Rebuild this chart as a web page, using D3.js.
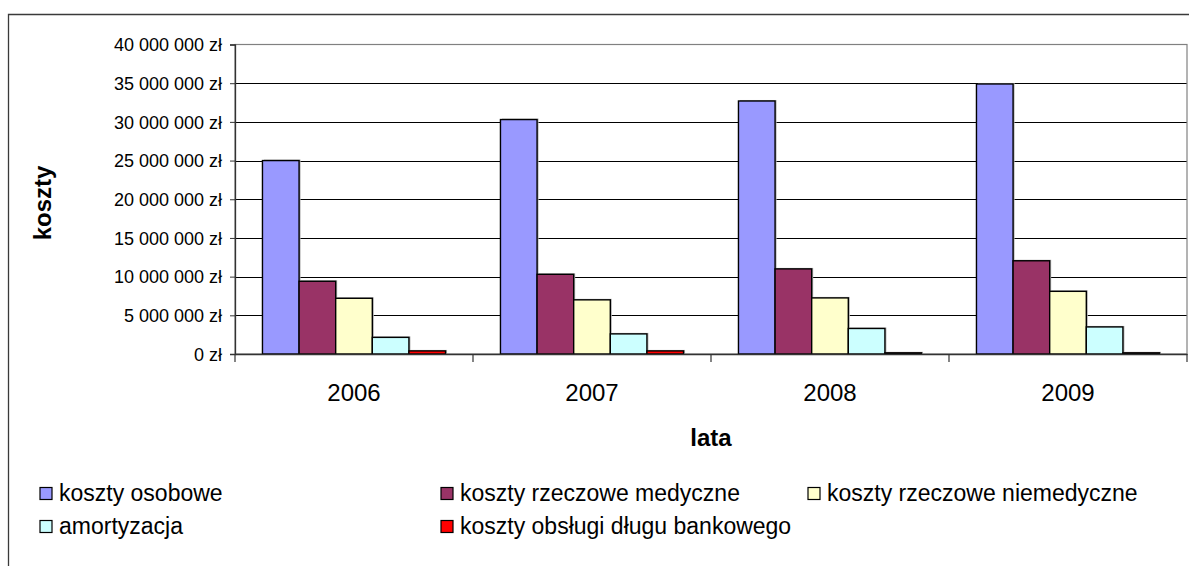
<!DOCTYPE html>
<html>
  <head>
    <meta charset="utf-8">
    <title>Koszty 2006-2009</title>
    <script src="https://d3js.org/d3.v7.min.js"></script>
    <style>
      body { margin: 0; background: #fff; }
      svg text { font-family: "Liberation Sans", Arial, sans-serif; fill: #000; }
    </style>
  </head>
  <body>
<script>
// data
var years = ["2006", "2007", "2008", "2009"];
var seriesNames = [
  "koszty osobowe",
  "koszty rzeczowe medyczne",
  "koszty rzeczowe niemedyczne",
  "amortyzacja",
  "koszty obsługi długu bankowego"
];
var seriesColors = ["#9999FF", "#993366", "#FFFFCC", "#CCFFFF", "#FF0000"];
var kosztyOsobowe      = [25000000, 30300000, 32700000, 34900000];
var rzeczoweMedyczne   = [9400000, 10300000, 11000000, 12050000];
var rzeczoweNiemed     = [7200000, 7000000, 7250000, 8100000];
var amortyzacja        = [2150000, 2600000, 3300000, 3500000];
var obslugaDlugu       = [400000, 400000, 150000, 150000];
var yTicks = [0, 5000000, 10000000, 15000000, 20000000, 25000000, 30000000, 35000000, 40000000];

var seriesValues = [kosztyOsobowe, rzeczoweMedyczne, rzeczoweNiemed, amortyzacja, obslugaDlugu];

var width = 1189,
    height = 566,
    plot = { left: 235, right: 1187, top: 44.5, bottom: 354 };

var svg = d3.select("body").append("svg")
  .attr("width", width)
  .attr("height", height);

// outer chart frame (only top and left visible)
svg.append("path")
  .attr("d", "M8.5," + height + "V14.5H" + width)
  .attr("fill", "none")
  .attr("stroke", "#3a3a3a")
  .attr("stroke-width", 1.3);

var y = d3.scaleLinear().domain([0, 40000000]).range([plot.bottom, plot.top]);
var x0 = d3.scaleBand().domain(years).range([plot.left, plot.right]);
var x1 = d3.scaleBand().domain(seriesNames).range([0, x0.bandwidth()]).paddingOuter(0.75);

// gridlines
svg.append("g")
  .selectAll("line")
  .data(yTicks.filter(function (d) { return d > 0 && d < 40000000; }))
  .enter().append("line")
  .attr("x1", plot.left).attr("x2", plot.right)
  .attr("y1", function (d) { return Math.round(y(d)) + 0.5; })
  .attr("y2", function (d) { return Math.round(y(d)) + 0.5; })
  .attr("stroke", "#000")
  .attr("stroke-width", 1);

// plot area border
svg.append("rect")
  .attr("x", plot.left).attr("y", plot.top)
  .attr("width", plot.right - plot.left)
  .attr("height", plot.bottom - plot.top)
  .attr("fill", "none")
  .attr("stroke", "#808080")
  .attr("stroke-width", 1.2);

// bars
var rows = years.map(function (yr, i) {
  return { year: yr, vals: seriesNames.map(function (s, j) { return { key: s, value: seriesValues[j][i], color: seriesColors[j] }; }) };
});

var groups = svg.append("g").selectAll("g")
  .data(rows)
  .enter().append("g")
  .attr("transform", function (d) { return "translate(" + x0(d.year) + ",0)"; });

// faint shadow behind each bar
groups.selectAll("rect.shadow")
  .data(function (d) { return d.vals; })
  .enter().append("rect")
  .attr("class", "shadow")
  .attr("x", function (d) { return x1(d.key) + 1.5; })
  .attr("y", function (d) { return y(d.value) - 1; })
  .attr("width", x1.bandwidth())
  .attr("height", function (d) { return plot.bottom - y(d.value) + 1; })
  .attr("fill", "#b0b0b0");

groups.selectAll("rect.bar")
  .data(function (d) { return d.vals; })
  .enter().append("rect")
  .attr("class", "bar")
  .attr("x", function (d) { return x1(d.key); })
  .attr("y", function (d) { return y(d.value); })
  .attr("width", x1.bandwidth())
  .attr("height", function (d) { return plot.bottom - y(d.value); })
  .attr("fill", function (d) { return d.color; })
  .attr("stroke", "#000")
  .attr("stroke-width", 1.4);

// y axis
var fmt = d3.format(",");
var yAxis = svg.append("g")
  .attr("transform", "translate(" + plot.left + ",0)")
  .call(d3.axisLeft(y)
    .tickValues(yTicks)
    .tickSize(5)
    .tickPadding(8)
    .tickFormat(function (d) { return fmt(d).replace(/,/g, " ") + " zł"; }));
yAxis.select(".domain").attr("stroke", "#333").attr("stroke-width", 1.3);
yAxis.selectAll(".tick line").attr("stroke", "#333");
yAxis.selectAll("text")
  .style("font-size", "18px")
  .attr("dy", "0.35em");

// x axis
var xAxis = svg.append("g")
  .attr("transform", "translate(0," + plot.bottom + ")")
  .call(d3.axisBottom(x0).tickSize(0).tickPadding(0));
xAxis.select(".domain").attr("stroke", "#333").attr("stroke-width", 1.3);
xAxis.selectAll("text")
  .style("font-size", "24px")
  .attr("y", 47)
  .attr("dy", 0);

// tick marks between categories
var bounds = years.map(function (d) { return x0(d); }).concat([x0(years[years.length - 1]) + x0.bandwidth()]);
svg.append("g").selectAll("line")
  .data(bounds)
  .enter().append("line")
  .attr("x1", function (d) { return d; }).attr("x2", function (d) { return d; })
  .attr("y1", plot.bottom).attr("y2", plot.bottom + 8)
  .attr("stroke", "#333")
  .attr("stroke-width", 1.2);

// axis titles
svg.append("text")
  .attr("x", (plot.left + plot.right) / 2)
  .attr("y", 446)
  .attr("text-anchor", "middle")
  .style("font-size", "24px")
  .style("font-weight", "bold")
  .text("lata");

svg.append("text")
  .attr("transform", "translate(51,203) rotate(-90)")
  .attr("text-anchor", "middle")
  .style("font-size", "24px")
  .style("font-weight", "bold")
  .text("koszty");

// legend
var legendCols = [40, 441, 808];
var legendRows = [493.5, 526.5];
var legend = svg.append("g").selectAll("g")
  .data(seriesNames)
  .enter().append("g")
  .attr("transform", function (d, i) {
    return "translate(" + legendCols[i % 3] + "," + legendRows[Math.floor(i / 3)] + ")";
  });

legend.append("rect")
  .attr("x", 0).attr("y", -6)
  .attr("width", 12).attr("height", 12)
  .attr("fill", function (d, i) { return seriesColors[i]; })
  .attr("stroke", "#000")
  .attr("stroke-width", 1.2);

legend.append("text")
  .attr("x", 19)
  .attr("y", 7.5)
  .style("font-size", "23px")
  .text(function (d) { return d; });
</script>
  </body>
</html>
